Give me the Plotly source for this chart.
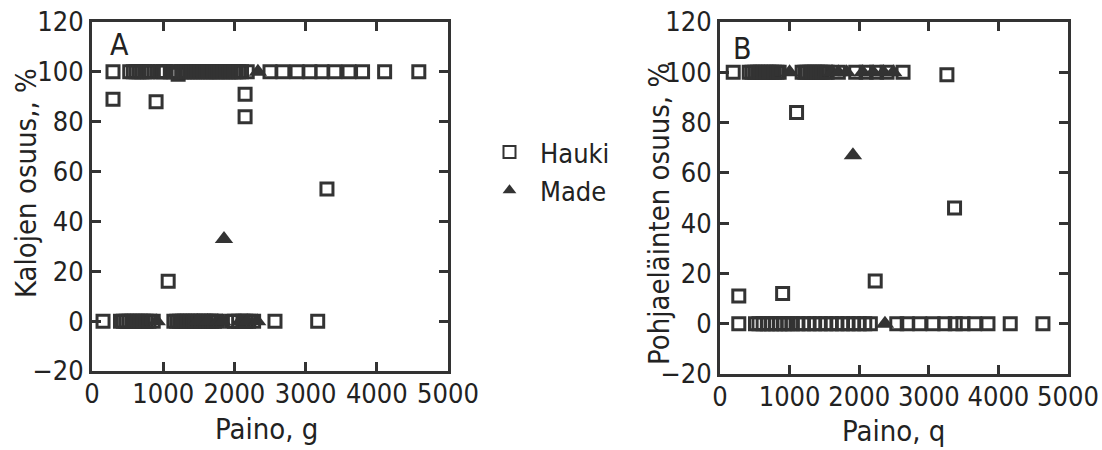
import plotly.graph_objects as go

# ---------------- data ----------------
# Panel A: Kalojen osuus (%), vs Paino (g)
a_hauki_x = [155, 295, 295, 530, 580, 620, 660, 700, 740, 780, 820, 900, 960, 1000, 1030, 1070,
             1100, 1150, 1210, 1260, 1300, 1340, 1380, 1410, 1440, 1480, 1520, 1560, 1600, 1630,
             1660, 1700, 1740, 1770, 1800, 1840, 1880, 1920, 1950, 1990, 2020, 2060, 2100, 2150,
             2150, 2180, 2500, 2680, 2880, 3060, 3230, 3300, 3410, 3610, 3800, 4110, 4590,
             400, 440, 480, 520, 560, 600, 640, 680, 720, 760, 800, 860, 1150, 1190, 1230, 1270,
             1300, 1340, 1380, 1420, 1450, 1490, 1530, 1570, 1600, 1640, 1680, 1720, 1750,
             1960, 2000, 2060, 2120, 2160, 2200, 2270, 2570, 3170]
a_hauki_y = [0, 100, 89, 100, 100, 100, 100, 100, 100, 100, 100, 88, 100, 100, 100, 16,
             100, 100, 99, 100, 100, 100, 100, 100, 100, 100, 100, 100, 100, 100,
             100, 100, 100, 100, 100, 100, 100, 100, 100, 100, 100, 100, 100, 91,
             82, 100, 100, 100, 100, 100, 100, 53, 100, 100, 100, 100, 100,
             0, 0, 0, 0, 0, 0, 0, 0, 0, 0, 0, 0, 0, 0, 0, 0,
             0, 0, 0, 0, 0, 0, 0, 0, 0, 0, 0, 0, 0,
             0, 0, 0, 0, 0, 0, 0, 0, 0]
a_made_x = [910, 1480, 1620, 1760, 1830, 1854, 2080, 2180, 2320, 2330]
a_made_y = [0, 0, 0, 0, 0, 33, 0, 0, 0, 100]

# Panel B: Pohjaeläinten osuus (%), vs Paino (g)
b_hauki_x = [190, 270, 270, 420, 460, 500, 540, 580, 620, 660, 700, 740, 780, 820, 850, 900,
             1100, 1180, 1220, 1250, 1290, 1320, 1360, 1400, 1440, 1470, 1510, 1540, 1700, 1950,
             2100, 2230, 2250, 2400, 2630, 3260, 3370,
             510, 560, 620, 680, 740, 800, 860, 920, 980, 1040, 1120, 1200, 1280, 1360, 1440,
             1520, 1600, 1680, 1760, 1840, 1920, 2000, 2080, 2160, 2540, 2690, 2870, 3060,
             3230, 3380, 3490, 3660, 3850, 4170, 4640]
b_hauki_y = [100, 11, 0, 100, 100, 100, 100, 100, 100, 100, 100, 100, 100, 100, 100, 12,
             84, 100, 100, 100, 100, 100, 100, 100, 100, 100, 100, 100, 100, 100,
             100, 17, 100, 100, 100, 99, 46,
             0, 0, 0, 0, 0, 0, 0, 0, 0, 0, 0, 0, 0, 0, 0,
             0, 0, 0, 0, 0, 0, 0, 0, 0, 0, 0, 0, 0,
             0, 0, 0, 0, 0, 0, 0]
b_made_x = [1000, 1610, 1700, 1820, 1910, 2050, 2200, 2350, 2370, 2490]
b_made_y = [100, 100, 100, 100, 67, 100, 100, 100, 0, 100]

series_names = ["Hauki", "Made"]
x_ticks = [0, 1000, 2000, 3000, 4000, 5000]
y_ticks = [-20, 0, 20, 40, 60, 80, 100, 120]

# ---------------- styling ----------------
INK = "#333333"
TXT = "#222222"
FONT = "Liberation Sans Narrow, DejaVu Sans Condensed, Roboto Condensed, Liberation Sans, sans-serif"
W, H = 1102, 450
ML, MR, MT, MB = 92, 32, 22, 76
PW, PH = W - ML - MR, H - MT - MB


def xdom(x0, x1):
    return [(x0 - ML) / PW, (x1 - ML) / PW]


def ydom(top, bottom):
    return [(H - MB - bottom) / PH, (H - MB - top) / PH]


def px(xp):
    return (xp - ML) / PW


def py(yp):
    return (H - MB - yp) / PH


sq = dict(symbol="square-open", size=12, color=INK, line=dict(width=3, color=INK))
tri = dict(symbol="triangle-up", size=16, color=INK, line=dict(width=0))

fig = go.Figure()
fig.add_trace(go.Scatter(x=a_hauki_x, y=a_hauki_y, mode="markers", marker=sq,
                         name=series_names[0], xaxis="x", yaxis="y"))
fig.add_trace(go.Scatter(x=a_made_x, y=a_made_y, mode="markers", marker=tri,
                         name=series_names[1], xaxis="x", yaxis="y"))
fig.add_trace(go.Scatter(x=b_hauki_x, y=b_hauki_y, mode="markers", marker=sq,
                         name=series_names[0], xaxis="x2", yaxis="y2", showlegend=False))
fig.add_trace(go.Scatter(x=b_made_x, y=b_made_y, mode="markers", marker=tri,
                         name=series_names[1], xaxis="x2", yaxis="y2", showlegend=False))


def ax(domain, anchor):
    return dict(domain=domain, showline=True, linecolor=INK, linewidth=3,
                mirror="ticks", ticks="inside", ticklen=9, tickwidth=2.5, tickcolor=INK,
                showgrid=False, zeroline=False, anchor=anchor, automargin=False,
                tickfont=dict(family=FONT, size=27, color=TXT))


xa = ax(xdom(92, 448), "y")
xa.update(range=[0, 5000], tickvals=x_ticks, ticklabelstandoff=-3)
ya = ax(ydom(22, 371), "x")
ya.update(range=[-20, 120], tickvals=y_ticks)
xb = ax(xdom(720, 1068), "y2")
xb.update(range=[0, 5000], tickvals=x_ticks, ticklabelstandoff=-3)
yb = ax(ydom(22, 374), "x2")
yb.update(range=[-20, 120], tickvals=y_ticks)

title_font = dict(family=FONT, size=29, color=TXT)
annotations = [
    dict(text="Paino, g", x=px(266), y=py(429), xref="paper", yref="paper",
         xanchor="center", yanchor="middle", showarrow=False, font=title_font),
    dict(text="Paino, q", x=px(893), y=py(431), xref="paper", yref="paper",
         xanchor="center", yanchor="middle", showarrow=False, font=title_font),
    dict(text="Kalojen osuus,, %", x=px(26), y=py(183), xref="paper", yref="paper",
         xanchor="center", yanchor="middle", textangle=-90, showarrow=False, font=title_font),
    dict(text="Pohjaeläinten osuus, %", x=px(659), y=py(214), xref="paper", yref="paper",
         xanchor="center", yanchor="middle", textangle=-90, showarrow=False, font=title_font),
    dict(text="A", x=px(119), y=py(45), xref="paper", yref="paper", xanchor="center",
         yanchor="middle", showarrow=False, font=dict(family=FONT, size=30, color=TXT)),
    dict(text="B", x=px(742), y=py(48), xref="paper", yref="paper", xanchor="center",
         yanchor="middle", showarrow=False, font=dict(family=FONT, size=30, color=TXT)),
]

fig.update_layout(
    width=W, height=H,
    margin=dict(l=ML, r=MR, t=MT, b=MB),
    paper_bgcolor="white", plot_bgcolor="white",
    xaxis=xa, yaxis=ya, xaxis2=xb, yaxis2=yb,
    showlegend=True,
    legend=dict(x=px(479), y=py(128), xanchor="left", yanchor="top",
                font=dict(family=FONT, size=27, color=TXT), tracegroupgap=0,
                itemwidth=51,
                bgcolor="rgba(0,0,0,0)", itemsizing="constant"),
    annotations=annotations,
)

fig.write_html("out.html", config={"displayModeBar": False},
               post_script="document.body.style.margin='0';")
